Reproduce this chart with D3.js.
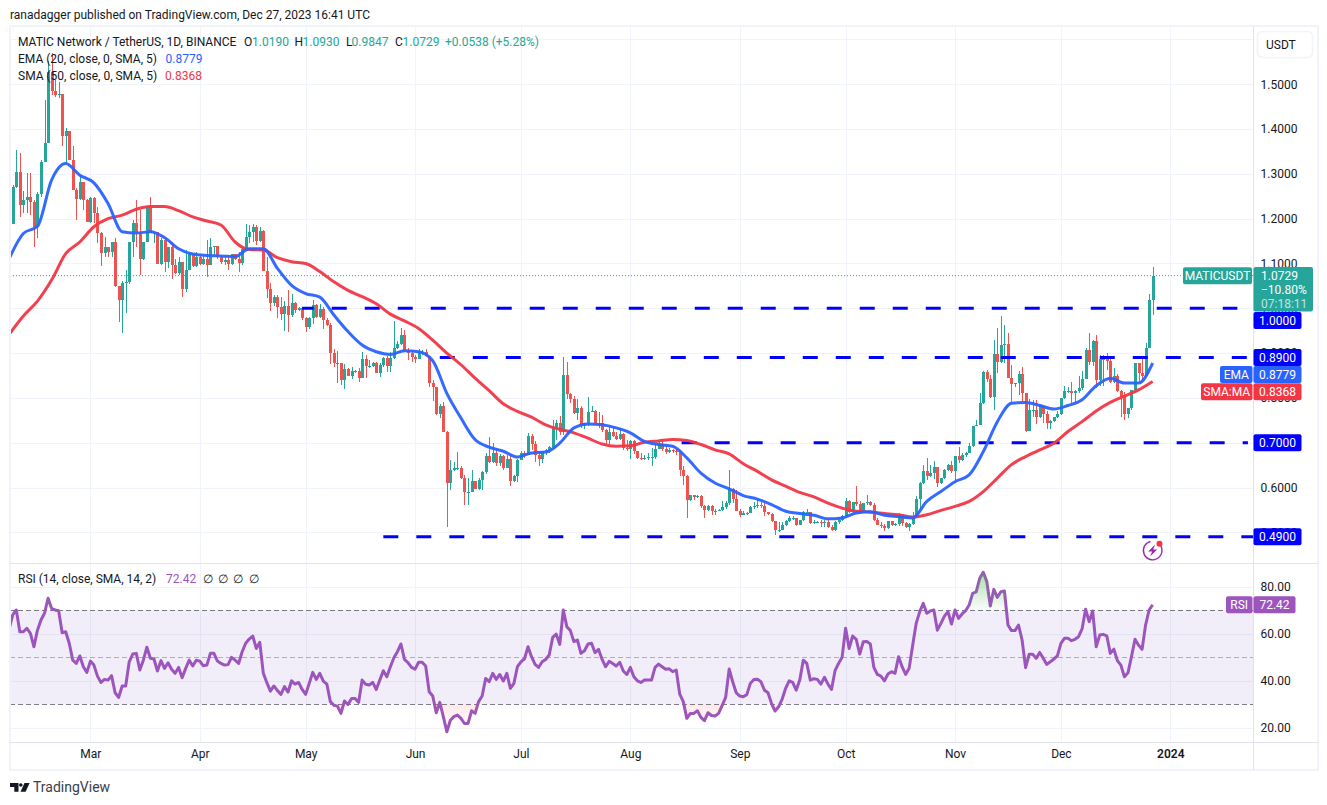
<!DOCTYPE html>
<html>
<head>
<meta charset="utf-8">
<title>MATICUSDT</title>
<script src="https://cdn.jsdelivr.net/npm/d3@7"></script>
<style>
    html, body { margin: 0; padding: 0; background: #fff; }
    svg { display: block; }
    text { font-family: Roboto, "Noto Sans", sans-serif; font-size: 12px; fill: #131722; }
    .axis text { fill: #131722; }
    .axis path, .axis line { display: none; }
</style>
</head>
<body>
<div class="chart-container"></div>
<script>
// one entry a day from the first date on
const firstDate = "2023-02-06";
const firstOpen = 1.204;

const closes = [
1.189,1.271,1.305,1.230,1.241,1.249,1.238,1.182,1.256,1.327,1.370,1.528,1.484,1.476,1.478,1.385,1.396,1.331,1.264,1.245,1.282,1.241,1.193,1.247,1.212,
1.167,1.124,1.137,1.126,1.148,1.050,1.018,1.057,1.059,1.148,1.191,1.171,1.111,1.148,1.225,1.167,1.171,1.100,1.152,1.104,1.137,1.096,1.078,1.104,1.044,
1.085,1.122,1.094,1.115,1.100,1.111,1.096,1.137,1.139,1.115,1.104,1.107,1.098,1.121,1.111,1.101,1.133,1.159,1.171,1.182,1.150,1.172,1.083,1.044,1.011,
1.026,1.004,0.987,1.005,0.985,1.011,0.996,1.000,0.978,0.959,0.979,1.007,0.981,0.999,0.974,0.963,0.900,0.877,0.877,0.840,0.864,0.848,0.859,0.859,0.845,
0.886,0.872,0.872,0.877,0.855,0.874,0.888,0.872,0.888,0.911,0.920,0.941,0.906,0.901,0.892,0.887,0.903,0.903,0.894,0.834,0.824,0.764,0.782,0.725,
0.610,0.638,0.643,0.643,0.621,0.591,0.591,0.615,0.597,0.617,0.634,0.671,0.656,0.677,0.655,0.670,0.643,0.664,0.614,0.626,0.662,0.678,0.673,0.716,0.696,
0.672,0.663,0.681,0.684,0.690,0.735,0.744,0.723,0.852,0.809,0.798,0.766,0.777,0.738,0.743,0.768,0.771,0.745,0.744,0.728,0.707,0.725,0.716,0.709,0.719,
0.688,0.686,0.703,0.681,0.666,0.663,0.666,0.668,0.668,0.687,0.697,0.687,0.679,0.683,0.682,0.679,0.638,0.625,0.571,0.584,0.578,0.582,0.559,0.549,0.559,
0.547,0.548,0.550,0.556,0.565,0.597,0.574,0.548,0.539,0.543,0.543,0.556,0.558,0.560,0.558,0.545,0.541,0.525,0.506,0.506,0.517,0.525,0.533,0.533,0.517,
0.527,0.545,0.546,0.521,0.523,0.524,0.521,0.522,0.512,0.506,0.522,0.528,0.536,0.569,0.545,0.568,0.563,0.545,0.565,0.567,0.560,0.528,0.517,0.515,0.510,0.525,
0.517,0.518,0.541,0.520,0.511,0.519,0.535,0.575,0.610,0.637,0.625,0.632,0.645,0.610,0.621,0.639,0.651,0.636,0.671,0.662,0.673,0.678,0.693,0.738,0.740,
0.788,0.857,0.842,0.803,0.898,0.881,0.918,0.920,0.845,0.830,0.833,0.854,0.810,0.726,0.773,0.773,0.758,0.781,0.764,0.743,0.749,0.758,0.764,0.799,0.816,
0.816,0.810,0.816,0.822,0.842,0.907,0.881,0.926,0.840,0.887,0.887,0.883,0.836,0.850,0.816,0.801,0.764,0.777,0.818,0.877,0.856,0.848,0.911,1.019,1.0729];

const highs = [
1.210,1.275,1.353,1.347,1.262,1.301,1.303,1.241,1.260,1.331,1.466,1.551,1.569,1.510,1.506,1.476,1.402,1.395,1.363,1.268,1.297,1.282,1.245,1.249,1.249,
1.227,1.171,1.159,1.137,1.148,1.156,1.048,1.060,1.085,1.148,1.197,1.241,1.219,1.148,1.227,1.249,1.172,1.171,1.156,1.156,1.137,1.148,1.111,1.115,1.104,
1.130,1.126,1.122,1.126,1.122,1.119,1.152,1.156,1.140,1.140,1.119,1.119,1.119,1.122,1.119,1.126,1.137,1.189,1.186,1.189,1.186,1.182,1.175,1.115,1.056,
1.030,1.030,1.026,1.016,1.041,1.032,1.015,1.004,1.004,0.981,0.981,1.019,1.010,1.010,1.004,0.978,0.968,0.909,0.905,0.877,0.876,0.866,0.868,0.862,0.866,
0.902,0.896,0.885,0.881,0.881,0.879,0.892,0.894,0.902,0.972,0.926,0.955,0.952,0.911,0.907,0.896,0.909,0.907,0.909,0.894,0.839,0.824,0.787,0.790,
0.727,0.661,0.658,0.679,0.647,0.629,0.621,0.638,0.615,0.621,0.636,0.677,0.713,0.699,0.688,0.675,0.673,0.673,0.673,0.629,0.664,0.681,0.681,0.722,0.719,
0.703,0.681,0.681,0.686,0.693,0.751,0.751,0.760,0.891,0.881,0.811,0.805,0.797,0.781,0.745,0.803,0.783,0.774,0.768,0.762,0.730,0.735,0.738,0.723,0.733,
0.722,0.707,0.707,0.707,0.681,0.677,0.673,0.677,0.688,0.699,0.703,0.703,0.693,0.688,0.686,0.688,0.681,0.647,0.629,0.581,0.581,0.584,0.584,0.562,0.562,
0.562,0.552,0.552,0.569,0.569,0.640,0.599,0.595,0.552,0.548,0.546,0.558,0.568,0.571,0.571,0.565,0.546,0.544,0.526,0.522,0.524,0.528,0.537,0.537,0.530,
0.528,0.547,0.551,0.546,0.527,0.526,0.528,0.528,0.528,0.517,0.525,0.532,0.539,0.577,0.573,0.568,0.603,0.569,0.565,0.584,0.569,0.565,0.532,0.523,0.519,0.525,
0.524,0.520,0.544,0.541,0.524,0.520,0.546,0.580,0.613,0.651,0.665,0.651,0.659,0.636,0.621,0.641,0.653,0.659,0.669,0.690,0.677,0.680,0.699,0.738,0.751,
0.810,0.859,0.862,0.851,0.929,0.955,0.983,0.963,0.944,0.874,0.833,0.859,0.868,0.810,0.797,0.796,0.796,0.787,0.784,0.770,0.751,0.758,0.770,0.799,0.827,
0.825,0.836,0.818,0.848,0.859,0.911,0.944,0.929,0.941,0.896,0.896,0.901,0.886,0.866,0.854,0.818,0.814,0.777,0.818,0.877,0.877,0.892,0.922,1.033,1.093];

const lows = [
1.185,1.188,1.268,1.204,1.212,1.212,1.208,1.137,1.158,1.249,1.326,1.368,1.476,1.472,1.469,1.363,1.323,1.331,1.264,1.197,1.241,1.219,1.193,1.191,1.191,
1.145,1.094,1.115,1.115,1.115,1.048,0.970,0.944,0.989,1.055,1.115,1.137,1.074,1.107,1.148,1.167,1.145,1.098,1.096,1.081,1.090,1.066,1.076,1.074,1.025,
1.036,1.085,1.092,1.092,1.096,1.096,1.070,1.096,1.115,1.111,1.100,1.096,1.085,1.096,1.107,1.081,1.096,1.133,1.145,1.148,1.141,1.148,1.083,1.024,0.995,
1.006,0.978,0.974,0.950,0.946,0.980,0.989,0.995,0.975,0.946,0.953,0.964,0.978,0.978,0.953,0.961,0.876,0.868,0.834,0.829,0.819,0.848,0.842,0.855,0.836,
0.844,0.844,0.866,0.868,0.855,0.846,0.868,0.857,0.857,0.887,0.909,0.918,0.903,0.885,0.881,0.879,0.887,0.896,0.892,0.825,0.792,0.762,0.755,0.723,
0.511,0.594,0.636,0.640,0.619,0.562,0.560,0.589,0.597,0.595,0.594,0.631,0.655,0.655,0.649,0.649,0.638,0.643,0.603,0.612,0.612,0.662,0.666,0.673,0.684,
0.658,0.649,0.655,0.673,0.677,0.686,0.707,0.718,0.718,0.797,0.788,0.765,0.751,0.733,0.730,0.738,0.768,0.744,0.733,0.725,0.696,0.698,0.713,0.707,0.707,
0.683,0.681,0.664,0.675,0.664,0.662,0.661,0.661,0.649,0.664,0.686,0.681,0.675,0.677,0.678,0.673,0.625,0.606,0.533,0.569,0.573,0.577,0.554,0.532,0.547,
0.539,0.539,0.547,0.547,0.552,0.560,0.565,0.547,0.534,0.539,0.539,0.542,0.551,0.554,0.554,0.536,0.539,0.523,0.495,0.501,0.506,0.513,0.522,0.528,0.515,
0.516,0.525,0.542,0.519,0.519,0.521,0.511,0.512,0.510,0.502,0.504,0.519,0.525,0.534,0.543,0.545,0.558,0.543,0.543,0.562,0.558,0.525,0.517,0.510,0.502,0.508,
0.513,0.515,0.515,0.515,0.509,0.504,0.517,0.535,0.554,0.608,0.617,0.623,0.619,0.602,0.608,0.619,0.636,0.632,0.617,0.654,0.660,0.669,0.677,0.691,0.738,
0.740,0.787,0.836,0.799,0.773,0.855,0.877,0.879,0.844,0.787,0.825,0.807,0.792,0.723,0.726,0.758,0.742,0.755,0.743,0.730,0.730,0.747,0.755,0.762,0.797,
0.810,0.788,0.788,0.810,0.818,0.842,0.874,0.871,0.822,0.827,0.827,0.862,0.834,0.834,0.814,0.758,0.751,0.755,0.773,0.814,0.833,0.836,0.848,0.911,0.9847];

const rsiValues = [
62.4,68.1,70.2,60.9,60.9,62.4,60.2,54.5,61.6,65.9,68.8,75.2,70.9,70.2,69.9,60.5,60.9,56,48.8,47.4,50.6,46,43.6,48.4,46.7,
42,39.3,40.6,40.3,42.2,34.9,32.9,37.8,37.8,48.1,51.4,51.7,44.6,48.8,54.3,49.6,49.3,44.2,48.6,45.3,47.7,44.9,43.2,45.7,41.3,
45.3,48.8,46.3,48.8,48.4,46.4,46.7,51.7,51.7,48.4,47.4,46.7,46.9,50,48.8,47.4,52.4,56,57.8,59.1,53.8,56.4,43.2,39.2,35.6,
37.8,35.8,34.2,37.5,35.2,40,38.6,39.3,36.3,34.2,38.9,43.6,40.6,43.2,39.9,38.6,31.1,29.6,29.2,26.1,31.4,29.9,32.5,32.5,30.8,
40.3,38.5,38.2,39.3,36.3,40.3,44.3,41.7,46,49.8,52.4,55.7,49.1,47.7,45.7,45,47.9,47.9,46.3,35.3,33.5,26.4,30.8,24.7,
18.3,23.2,24.7,25.4,24,21.8,21.8,27.2,26.1,31.1,33.5,41,39.6,43.2,40.6,42.7,39.9,43.2,36.8,38.9,46,48.1,49.4,54.5,50.3,
47,45.7,48.1,49.1,51,58.5,59.9,55.5,70.2,63.1,61.4,56.7,57.4,51.7,52.8,55.7,56,52,53.4,49.1,46,48.3,47.4,46.3,47.9,
44.2,42.7,45.7,41.7,40,39.3,40.3,40.3,40.3,45.7,47.1,46,44.9,45.1,43.9,44.6,34.3,31.1,24,26.1,26.1,27.2,24.4,23,26.4,
25.2,25,26.1,29.4,32.9,45,39.6,34.9,33.5,33.2,34.1,38.9,40.6,40.7,39.6,36,34.9,30.4,27.1,28.9,32.1,36.8,40,39.3,36,
40.3,48.8,47.4,40.3,40.9,40.6,38.6,41.5,38.6,36.3,44.3,47.4,50,62.4,53.8,59.1,57.7,51.4,56.7,56.8,55.7,45.7,42.7,42,40,42.9,
43.9,43.2,50.3,46,42.7,45.3,55.2,64.5,69.5,73,68.8,69.8,70.2,61.6,64.5,67.6,69.5,64.2,70.2,66.6,68.5,69.9,72.3,77.3,77.9,
83.7,86.3,82.3,71.9,79,75.6,78,78.3,63.8,61.4,61.4,63.8,57.4,45.6,51.3,51.3,49.6,52.1,49.6,47,48.1,49.3,50.6,56,58.1,
58.1,57.1,57.7,58.8,62.1,70.5,65.2,69.8,54.5,59.5,59.8,59.2,51.7,53.5,48.6,46.7,41.7,43.4,50.3,57.7,55.2,53.4,63.8,70.2,72.42];

const maStep = 4;
const emaValues = [
1.111,1.167,1.183,1.286,1.323,1.297,1.280,1.234,1.171,1.168,1.171,1.158,1.133,1.121,1.118,1.117,1.115,1.133,1.133,1.089,1.051,1.033,
1.025,0.985,0.948,0.918,0.903,0.897,0.905,0.903,0.883,0.810,
0.755,0.707,0.690,0.681,0.668,0.677,0.679,0.699,0.733,0.742,0.740,0.733,0.722,0.703,0.696,0.692,0.666,0.632,0.610,0.597,0.582,0.574,0.562,0.547,0.542,0.538,0.530,0.532,0.543,0.546,0.538,
0.535,0.532,0.569,0.591,0.613,0.628,0.680,0.747,0.788,0.790,0.783,0.775,0.783,0.796,0.827,0.844,0.833,0.833,0.8779];
const smaValues = [
0.942,0.983,1.016,1.063,1.122,1.148,1.182,1.200,1.208,1.221,1.227,1.227,1.218,1.204,1.195,1.186,1.148,1.131,1.130,1.113,1.104,1.100,
1.082,1.059,1.040,1.026,1.010,0.987,0.972,0.955,0.929,0.900,
0.874,0.844,0.816,0.787,0.770,0.757,0.740,0.730,0.722,0.710,0.697,0.692,0.693,0.701,0.704,0.707,0.705,0.696,0.684,0.675,0.653,0.636,0.617,0.603,0.589,0.579,0.565,0.554,0.547,0.545,0.542,
0.539,0.534,0.539,0.549,0.558,0.569,0.591,0.621,0.651,0.669,0.684,0.699,0.725,0.747,0.771,0.790,0.804,0.818,0.8368];

const priceTicks = [0.5, 0.6, 0.7, 0.8, 0.9, 1.0, 1.1, 1.2, 1.3, 1.4, 1.5, 1.6];
const rsiTicks = [20, 40, 60, 80];
const monthTicks = ["2023-03-01", "2023-04-01", "2023-05-01", "2023-06-01", "2023-07-01", "2023-08-01", "2023-09-01", "2023-10-01", "2023-11-01", "2023-12-01", "2024-01-01"];
const monthLabels = ["Mar", "Apr", "May", "Jun", "Jul", "Aug", "Sep", "Oct", "Nov", "Dec", "2024"];

const levelPrices = [1.0, 0.89, 0.7, 0.49];
const levelStarts = ["2023-04-30", "2023-06-08", "2023-08-15", "2023-05-23"];
const levelEnds = ["2024-01-20", "2024-01-23", "2024-01-23", "2024-01-25"];

const lastClose = 1.0729;
const lastEma = 0.8779;
const lastSma = 0.8368;
const lastRsi = 72.42;

const UP = "#26a69a", DOWN = "#ef5350", BLUE = "#2962ff", RED = "#f23645", LEVEL = "#0000ff", PURPLE = "#9c55bd";
const GRID = "#f0f3fa", EDGE = "#e0e3eb";

const width = 1327, height = 805;
const paneLeft = 10, paneRight = 1253.5, paneTop = 27, paneBottom = 563, rsiBottom = 742, frameBottom = 770, frameRight = 1317.5;
const levelDashOffsets = [3.4, 0, -1.9, 0];

const parseDay = d3.utcParse("%Y-%m-%d");
const start = parseDay(firstDate);

const dayOf = i => d3.utcDay.offset(start, i);

const x = d3.scaleUtc().domain([parseDay("2023-03-01"), parseDay("2024-01-01")]).range([90.4, 1170.3]);
const y = d3.scaleLinear().domain([0.5, 1.5]).range([532.3, 84.3]);
const yRsi = d3.scaleLinear().domain([20, 80]).range([727.7, 587]);

const candles = closes.map((c, i) => ({
    date: dayOf(i),
    open: i === 0 ? firstOpen : closes[i - 1],
    high: highs[i],
    low: lows[i],
    close: c
}));

const svg = d3.select(".chart-container").append("svg")
    .attr("width", width)
    .attr("height", height)
    .attr("viewBox", `0 0 ${width} ${height}`);

const defs = svg.append("defs");
defs.append("clipPath").attr("id", "clip-main").append("rect")
    .attr("x", paneLeft).attr("y", paneTop).attr("width", paneRight - paneLeft).attr("height", paneBottom - paneTop);
defs.append("clipPath").attr("id", "clip-rsi").append("rect")
    .attr("x", paneLeft).attr("y", paneBottom).attr("width", paneRight - paneLeft).attr("height", rsiBottom - paneBottom);
defs.append("clipPath").attr("id", "clip-over").append("rect")
    .attr("x", paneLeft).attr("y", paneBottom).attr("width", paneRight - paneLeft).attr("height", yRsi(70) - paneBottom);
defs.append("clipPath").attr("id", "clip-under").append("rect")
    .attr("x", paneLeft).attr("y", yRsi(30)).attr("width", paneRight - paneLeft).attr("height", rsiBottom - yRsi(30));

const overGrad = defs.append("linearGradient").attr("id", "grad-over").attr("gradientUnits", "userSpaceOnUse")
    .attr("x1", 0).attr("x2", 0).attr("y1", yRsi(86)).attr("y2", yRsi(70));
overGrad.append("stop").attr("offset", 0).attr("stop-color", "#4caf50").attr("stop-opacity", 0.45);
overGrad.append("stop").attr("offset", 1).attr("stop-color", "#4caf50").attr("stop-opacity", 0.02);
const underGrad = defs.append("linearGradient").attr("id", "grad-under").attr("gradientUnits", "userSpaceOnUse")
    .attr("x1", 0).attr("x2", 0).attr("y1", yRsi(30)).attr("y2", yRsi(20));
underGrad.append("stop").attr("offset", 0).attr("stop-color", "#ff5252").attr("stop-opacity", 0.13);
underGrad.append("stop").attr("offset", 1).attr("stop-color", "#ff5252").attr("stop-opacity", 0);

// page text above the chart
svg.append("text").attr("x", 10).attr("y", 19).text("ranadagger published on TradingView.com, Dec 27, 2023 16:41 UTC");

// grid
const grid = svg.append("g").attr("stroke", GRID).attr("stroke-width", 1).attr("shape-rendering", "crispEdges");
grid.selectAll(".v").data(monthTicks).join("line")
    .attr("x1", d => Math.round(x(parseDay(d))) + 0.5).attr("x2", d => Math.round(x(parseDay(d))) + 0.5)
    .attr("y1", paneTop).attr("y2", rsiBottom);
grid.selectAll(".h").data(priceTicks).join("line")
    .attr("x1", paneLeft).attr("x2", paneRight)
    .attr("y1", d => Math.round(y(d)) + 0.5).attr("y2", d => Math.round(y(d)) + 0.5);
grid.selectAll(".r").data(rsiTicks).join("line")
    .attr("x1", paneLeft).attr("x2", paneRight)
    .attr("y1", d => Math.round(yRsi(d)) + 0.5).attr("y2", d => Math.round(yRsi(d)) + 0.5);

// candles
const main = svg.append("g").attr("clip-path", "url(#clip-main)");

const candle = main.append("g").attr("shape-rendering", "crispEdges")
    .selectAll("g").data(candles).join("g")
    .attr("fill", d => d.close >= d.open ? UP : DOWN)
    .attr("stroke", d => d.close >= d.open ? UP : DOWN);

candle.append("line")
    .attr("x1", d => Math.round(x(d.date)) + 0.5).attr("x2", d => Math.round(x(d.date)) + 0.5)
    .attr("y1", d => y(d.high)).attr("y2", d => y(d.low));

candle.append("rect")
    .attr("stroke", "none")
    .attr("x", d => Math.round(x(d.date)) - 1)
    .attr("width", 3)
    .attr("y", d => Math.min(y(d.open), y(d.close)))
    .attr("height", d => Math.max(1, Math.abs(y(d.open) - y(d.close))));

// last price line
main.append("line")
    .attr("x1", paneLeft).attr("x2", paneRight)
    .attr("y1", y(lastClose)).attr("y2", y(lastClose))
    .attr("stroke", UP).attr("stroke-width", 1).attr("stroke-dasharray", "1,2");

// support and resistance levels
main.selectAll(".level").data(levelPrices).join("line")
    .attr("class", "level")
    .attr("x1", (d, i) => x(parseDay(levelStarts[i])))
    .attr("x2", (d, i) => x(parseDay(levelEnds[i])))
    .attr("y1", d => y(d)).attr("y2", d => y(d))
    .attr("stroke", LEVEL).attr("stroke-width", 3).attr("stroke-dasharray", "15,18")
    .attr("stroke-dashoffset", (d, i) => levelDashOffsets[i]);

// moving averages
const maLine = d3.line()
    .x((d, i) => x(dayOf(i * maStep)))
    .y(d => y(d))
    .curve(d3.curveMonotoneX);

main.append("path").attr("d", maLine(smaValues)).attr("fill", "none").attr("stroke", RED).attr("stroke-width", 3).attr("stroke-opacity", 0.95);
main.append("path").attr("d", maLine(emaValues)).attr("fill", "none").attr("stroke", BLUE).attr("stroke-width", 3).attr("stroke-opacity", 0.95);

// RSI pane
const rsiPane = svg.append("g").attr("clip-path", "url(#clip-rsi)");

rsiPane.append("rect")
    .attr("x", paneLeft).attr("width", paneRight - paneLeft)
    .attr("y", yRsi(70)).attr("height", yRsi(30) - yRsi(70))
    .attr("fill", "#7e57c2").attr("fill-opacity", 0.1);

const rsiX = (d, i) => x(dayOf(i));

svg.append("path")
    .attr("clip-path", "url(#clip-over)")
    .attr("fill", "url(#grad-over)")
    .attr("d", d3.area().x(rsiX).y0(yRsi(70)).y1(d => yRsi(d))(rsiValues));
svg.append("path")
    .attr("clip-path", "url(#clip-under)")
    .attr("fill", "url(#grad-under)")
    .attr("d", d3.area().x(rsiX).y0(yRsi(30)).y1(d => yRsi(d))(rsiValues));

rsiPane.selectAll(".band").data([70, 50, 30]).join("line")
    .attr("class", "band")
    .attr("x1", paneLeft).attr("x2", paneRight)
    .attr("y1", d => Math.round(yRsi(d)) + 0.5).attr("y2", d => Math.round(yRsi(d)) + 0.5)
    .attr("stroke", "#787b86")
    .attr("stroke-opacity", d => d === 50 ? 0.55 : 1)
    .attr("stroke-dasharray", "5,3");

rsiPane.append("path")
    .attr("d", d3.line().x(rsiX).y(d => yRsi(d))(rsiValues))
    .attr("fill", "none").attr("stroke", PURPLE).attr("stroke-width", 3).attr("stroke-linejoin", "round");

// frame and pane separators
const frame = svg.append("g").attr("shape-rendering", "crispEdges");
frame.append("rect").attr("x", 9.5).attr("y", 26).attr("width", frameRight - 9.5).attr("height", frameBottom - 26)
    .attr("fill", "none").attr("stroke", GRID).attr("stroke-width", 2);
frame.append("line").attr("x1", paneLeft).attr("x2", frameRight).attr("y1", paneBottom + 0.5).attr("y2", paneBottom + 0.5).attr("stroke", EDGE);
frame.append("line").attr("x1", paneLeft).attr("x2", frameRight).attr("y1", rsiBottom + 0.5).attr("y2", rsiBottom + 0.5).attr("stroke", EDGE);
frame.append("line").attr("x1", paneRight).attr("x2", paneRight).attr("y1", 27).attr("y2", frameBottom).attr("stroke", EDGE);

// axes
svg.append("g").attr("class", "axis")
    .attr("transform", `translate(${paneRight + 2},0)`)
    .call(d3.axisRight(y).tickValues(priceTicks.slice(0, -1)).tickFormat(d3.format(".4f")).tickSize(0).tickPadding(5));
svg.append("g").attr("class", "axis")
    .attr("transform", `translate(${paneRight + 2},0)`)
    .call(d3.axisRight(yRsi).tickValues(rsiTicks).tickFormat(d3.format(".2f")).tickSize(0).tickPadding(5));
svg.append("g").attr("class", "axis")
    .attr("transform", `translate(0,${rsiBottom + 4})`)
    .call(d3.axisBottom(x).tickValues(monthTicks.map(parseDay)).tickFormat((d, i) => monthLabels[i]).tickSize(0).tickPadding(3))
    .selectAll("text")
    .style("font-weight", (d, i) => monthLabels[i] === "2024" ? 600 : 400);

// currency button
svg.append("rect").attr("x", 1257.5).attr("y", 31.5).attr("width", 55).attr("height", 26).attr("rx", 5)
    .attr("fill", "#fff").attr("stroke", GRID).attr("stroke-width", 1.5);
svg.append("text").attr("x", 1266).attr("y", 48.5).text("USDT");

// tags on the price scale
function tag(x0, w, cy, h, fill, label) {
    svg.append("rect").attr("x", x0).attr("y", cy - h / 2).attr("width", w).attr("height", h).attr("rx", 2).attr("fill", fill);
    svg.append("text").attr("x", x0 + w / 2).attr("y", cy + 4.3).attr("text-anchor", "middle").style("fill", "#fff").text(label);
}

const priceFmt = d3.format(".4f");

// teal last price block
svg.append("rect").attr("x", paneRight).attr("y", 267).attr("width", 59.5).attr("height", 44.5).attr("rx", 2).attr("fill", UP);
svg.append("text").attr("x", 1261).attr("y", 280).style("fill", "#fff").text(priceFmt(lastClose));
svg.append("text").attr("x", 1261).attr("y", 294).style("fill", "#fff").text("\u221210.80%");
svg.append("text").attr("x", 1261).attr("y", 307.5).style("fill", "#bfe5e1").text("07:18:11");
tag(1183, 69, y(lastClose), 17, UP, "MATICUSDT");

tag(paneRight, 48, 320.5, 17, LEVEL, priceFmt(1.0));
tag(paneRight, 48, y(0.89), 17, LEVEL, priceFmt(0.89));
tag(paneRight, 48, y(0.7), 17, LEVEL, priceFmt(0.7));
tag(paneRight, 48, y(0.49), 17, LEVEL, priceFmt(0.49));

tag(paneRight, 48, 374.5, 17, BLUE, priceFmt(lastEma));
tag(1220, 32.5, 374.5, 17, BLUE, "EMA");
tag(paneRight, 48, 391.8, 17, RED, priceFmt(lastSma));
tag(1201, 51.5, 391.8, 17, RED, "SMA:MA");

tag(paneRight, 42, yRsi(lastRsi), 17, PURPLE, d3.format(".2f")(lastRsi));
tag(1226, 26.5, yRsi(lastRsi), 17, PURPLE, "RSI");

// legend, each part at its own x
function legendRow(yPos, parts) {
    parts.forEach(p => svg.append("text").attr("x", p[2]).attr("y", yPos).style("fill", p[1] || "#131722").text(p[0]));
}

legendRow(46, [
    ["MATIC Network / TetherUS, 1D, BINANCE", null, 18],
    ["O", null, 244], ["1.0190", UP, 252],
    ["H", null, 294.5], ["1.0930", UP, 302.5],
    ["L", null, 346], ["0.9847", UP, 351.5],
    ["C", null, 395], ["1.0729", UP, 402.5],
    ["+0.0538 (+5.28%)", UP, 445]
]);
legendRow(63, [["EMA (20, close, 0, SMA, 5)", null, 18], ["0.8779", BLUE, 165.5]]);
legendRow(80, [["SMA (50, close, 0, SMA, 5)", null, 18], ["0.8368", RED, 165]]);
legendRow(583, [
    ["RSI (14, close, SMA, 14, 2)", null, 18], ["72.42", PURPLE, 166],
    ["\u2205", null, 203], ["\u2205", null, 218], ["\u2205", null, 233], ["\u2205", null, 249]
]);

// alert icon under the last candle
const icon = svg.append("g").attr("transform", `translate(${x(candles[candles.length - 1].date)},550.5)`);
icon.append("path")
    .attr("d", d3.arc().innerRadius(8.6).outerRadius(10).startAngle(0.75).endAngle(6.05)())
    .attr("fill", "#9c27b0");
icon.append("path")
    .attr("d", d3.line()([[2.5, -6], [-4.5, 1], [-0.5, 1], [-2.5, 6], [4.5, -1], [0.5, -1]]) + "Z")
    .attr("fill", "#9c27b0");
icon.append("circle").attr("cx", 6.8).attr("cy", -6.8).attr("r", 3).attr("fill", RED);

// footer logo
const logo = svg.append("g").attr("fill", "#131722");
logo.append("path").attr("d", "M10 783H18.5V791.7H14.3V787H10Z");
logo.append("circle").attr("cx", 20.8).attr("cy", 785).attr("r", 1.8);
logo.append("path").attr("d", "M24.5 783H29.6L25.6 791.7H20.5Z");
svg.append("text").attr("x", 33).attr("y", 792).style("font-size", "14px").style("fill", "#3a3e4a").text("TradingView");
</script>
</body>
</html>
